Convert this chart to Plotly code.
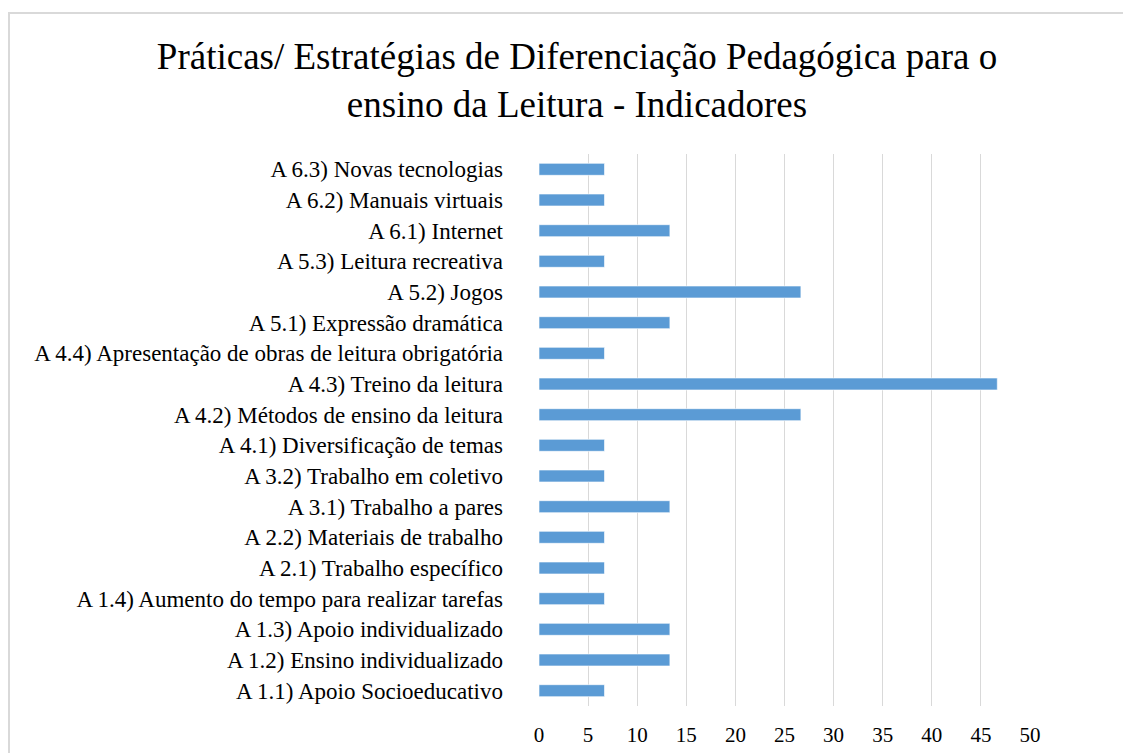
import plotly.graph_objects as go

categories = [
    "A 1.1) Apoio Socioeducativo",
    "A 1.2) Ensino individualizado",
    "A 1.3) Apoio individualizado",
    "A 1.4) Aumento do tempo para realizar tarefas",
    "A 2.1) Trabalho específico",
    "A 2.2) Materiais de trabalho",
    "A 3.1) Trabalho a pares",
    "A 3.2) Trabalho em coletivo",
    "A 4.1) Diversificação de temas",
    "A 4.2) Métodos de ensino da leitura",
    "A 4.3) Treino da leitura",
    "A 4.4) Apresentação de obras de leitura obrigatória",
    "A 5.1) Expressão dramática",
    "A 5.2) Jogos",
    "A 5.3) Leitura recreativa",
    "A 6.1) Internet",
    "A 6.2) Manuais virtuais",
    "A 6.3) Novas tecnologias",
]
values = [6.67, 13.33, 13.33, 6.67, 6.67, 6.67, 13.33, 6.67, 6.67,
          26.67, 46.67, 6.67, 13.33, 26.67, 6.67, 13.33, 6.67, 6.67]
x_ticks = [0, 5, 10, 15, 20, 25, 30, 35, 40, 45, 50]

title_text = "Práticas/ Estratégias de Diferenciação Pedagógica para o<br>ensino da Leitura - Indicadores"
serif = "Liberation Serif"

W, H = 1123, 745
L, T = 531, 146
PW, PH = 491, 551.6

fig = go.Figure(go.Bar(
    x=values, y=categories, orientation="h",
    width=0.39,
    marker=dict(color="#5b9bd5", line=dict(color="rgba(255,255,255,0.6)", width=1)),
))

fig.update_layout(
    width=W, height=H,
    paper_bgcolor="white", plot_bgcolor="white",
    margin=dict(l=L, r=W - L - PW, t=T, b=H - T - PH, autoexpand=False),
    showlegend=False,
    title=dict(text=title_text, x=(577 - 8) / W, xanchor="center", y=0.918, yanchor="middle",
               font=dict(family=serif, size=37, color="#000000")),
    xaxis=dict(range=[0, 50], tickvals=x_ticks, showgrid=True, gridcolor="#d9d9d9", gridwidth=1,
               zeroline=False, showline=False, ticklabelstandoff=14, automargin=False,
               tickfont=dict(family=serif, size=21, color="#000000")),
    yaxis=dict(categoryorder="array", categoryarray=categories, showgrid=False,
               showline=False, zeroline=False, ticklabelstandoff=35, automargin=False,
               tickfont=dict(family=serif, size=23, color="#000000")),
    shapes=[dict(type="rect", xref="paper", yref="paper",
                 x0=(1 - L) / PW, x1=1.3, y0=-0.3, y1=(T + PH - 5) / PH,
                 line=dict(color="#d9d9d9", width=2), fillcolor="rgba(0,0,0,0)", layer="below")],
)

fig.write_html("out.html")
